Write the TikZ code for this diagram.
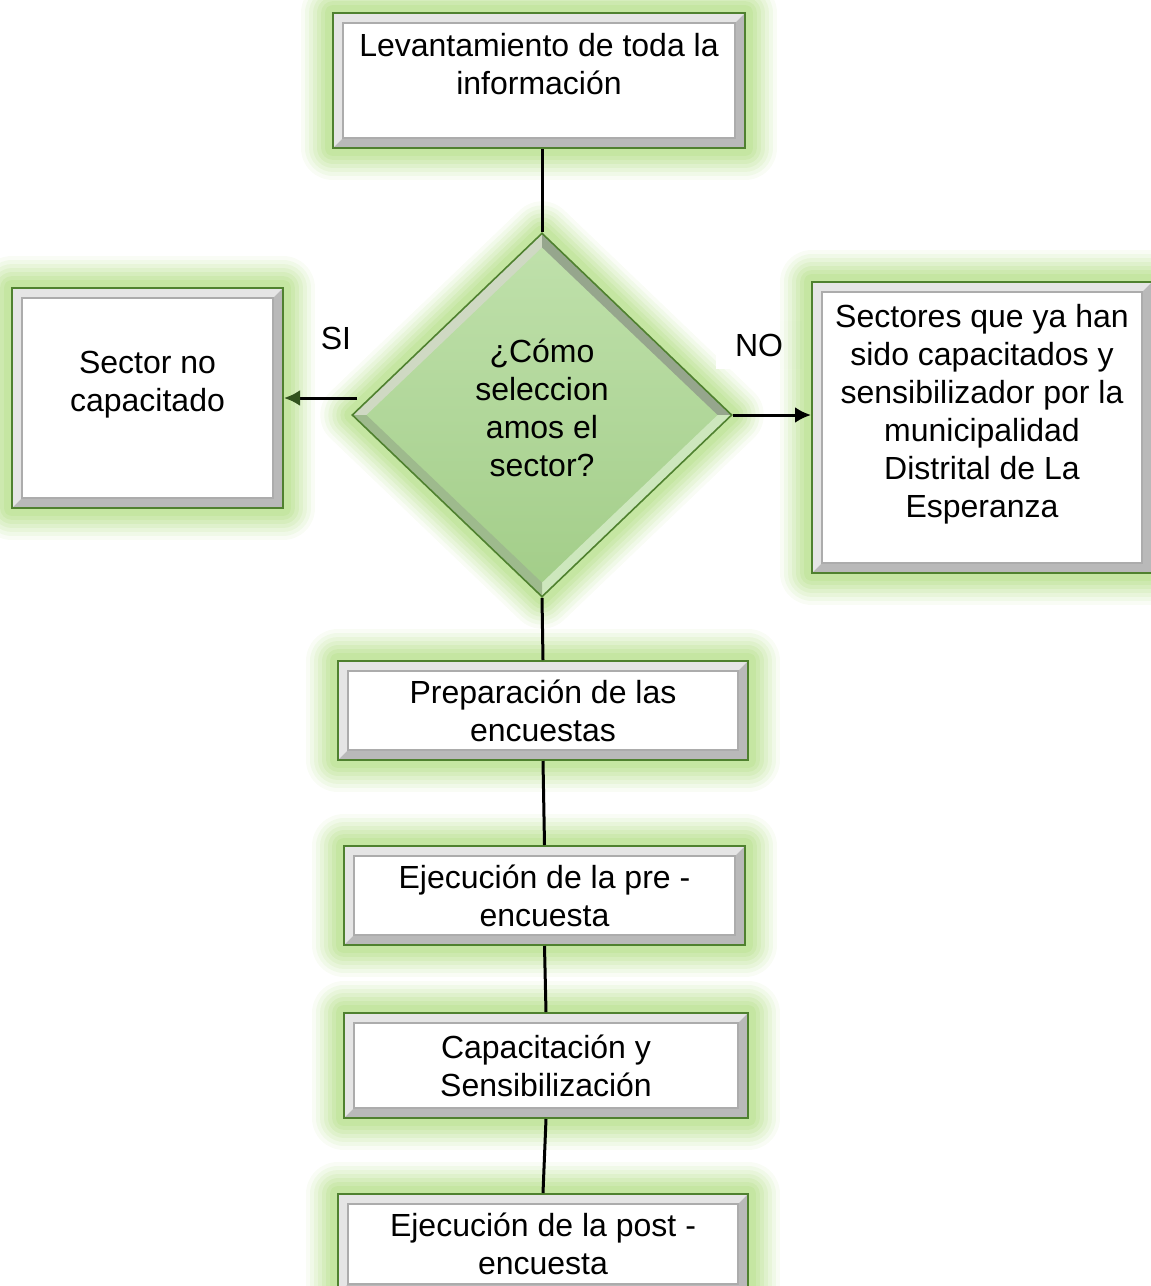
\documentclass[tikz,border=0pt]{standalone}
\usepackage{fontspec}
\setmainfont{Liberation Sans}
\usepackage{tikz}
\usetikzlibrary{shapes, arrows.meta, positioning}
\usepackage{xcolor}
\definecolor{glowgreen}{RGB}{146,208,80}
\definecolor{edgegreen}{RGB}{79,129,47}
\definecolor{sigreen}{RGB}{50,82,30}
\definecolor{difftop}{RGB}{192,225,172}
\definecolor{diffbot}{RGB}{162,205,136}
\newcommand{\ppb}{path picture bounding box}
\newcommand{\bev}{5pt}
\newcommand{\dbev}{7pt}

\begin{document}
\begin{tikzpicture}[
            x=0.5pt, y=-0.5pt,
            every node/.style={font=\fontsize{16}{19}\selectfont, align=center},
            glow/.style={
                preaction={draw=glowgreen, line width=32pt, draw opacity=.06, line join=round},
                preaction={draw=glowgreen, line width=28pt, draw opacity=.08, line join=round},
                preaction={draw=glowgreen, line width=24pt, draw opacity=.09, line join=round},
                preaction={draw=glowgreen, line width=20pt, draw opacity=.1, line join=round},
                preaction={draw=glowgreen, line width=16pt, draw opacity=.12, line join=round},
                preaction={draw=glowgreen, line width=12pt, draw opacity=.13, line join=round},
                preaction={draw=glowgreen, line width=8pt, draw opacity=.14, line join=round}},
            stepbox/.style={glow, draw=edgegreen, line width=1pt, fill=white, inner sep=0pt,
                path picture={
                    \fill[gray!20] (\ppb.south west) -- (\ppb.north west) -- (\ppb.north east)
                        -- ++(-\bev,-\bev) -| ([shift={(\bev,\bev)}]\ppb.south west) -- cycle;
                    \fill[gray!55] (\ppb.south west) -- (\ppb.south east) -- (\ppb.north east)
                        -- ++(-\bev,-\bev) |- ([shift={(\bev,\bev)}]\ppb.south west) -- cycle;
                    \draw[gray!65, line width=.6pt] ([shift={(\bev,\bev)}]\ppb.south west)
                        rectangle ([shift={(-\bev,-\bev)}]\ppb.north east);
                }},
            decision/.style={diamond, glow, draw=edgegreen, line width=.8pt,
                top color=difftop, bottom color=diffbot, text depth=7pt,
                minimum width=190pt, minimum height=182pt, inner sep=0pt,
                path picture={
                    \fill[green!25!lime!10!white!85!black] (\ppb.west) -- (\ppb.north)
                        -- ([yshift=-\dbev]\ppb.north) -- ([xshift=\dbev]\ppb.west) -- cycle;
                    \fill[edgegreen!45!gray!70] (\ppb.north) -- (\ppb.east)
                        -- ([xshift=-\dbev]\ppb.east) -- ([yshift=-\dbev]\ppb.north) -- cycle;
                    \fill[difftop!80!white] (\ppb.east) -- (\ppb.south)
                        -- ([yshift=\dbev]\ppb.south) -- ([xshift=-\dbev]\ppb.east) -- cycle;
                    \fill[edgegreen!55!white] (\ppb.south) -- (\ppb.west)
                        -- ([xshift=\dbev]\ppb.west) -- ([yshift=\dbev]\ppb.south) -- cycle;
                }},
            raised/.style={text depth=17pt},
            link/.style={line width=1.5pt},
            yesarrow/.style={link, -{Latex[length=8pt, width=8pt, color=sigreen]}},
            noarrow/.style={link, -{Latex[length=8pt, width=8pt]}}
        ]
        \useasboundingbox (0,0) rectangle (1151,1286);

        \node[stepbox, raised, minimum width=206pt, minimum height=67.5pt] (info) at (539,80.5)
            {Levantamiento de toda la\\información};
        \node[decision] (choice) at (542,415) {¿Cómo\\seleccion\\amos el\\sector?};
        \node[stepbox, raised, minimum width=135.5pt, minimum height=110pt] (nocap) at (147.5,398)
            {Sector no\\capacitado};
        \node (si) at (336,338) {SI};
        \node[fill=white, minimum width=43pt, minimum height=24pt] (no) at (759,345) {NO};
        \node[stepbox, raised, minimum width=170pt, minimum height=145.5pt] (donecap) at (982,427.5)
            {Sectores que ya han\\sido capacitados y\\sensibilizador por la\\municipalidad\\Distrital de La\\Esperanza};

        % pasos de la encuesta
        \foreach \Name/\X/\Y/\W/\H/\Text in {
                prep/543/710.5/205/49.5/{Preparación de las\\encuestas},
                pre/544.5/895.5/200.5/49.5/{Ejecución de la pre -\\encuesta},
                capac/546/1065.5/202/52.5/{Capacitación y\\Sensibilización},
                post/543/1244/205/50/{Ejecución de la post -\\encuesta}}
            \node[stepbox, minimum width=\W pt, minimum height=\H pt] (\Name) at (\X,\Y) {\Text};

        \draw[link] (choice.north |- info.south) -- (choice.north);
        \draw[yesarrow] ([xshift=3pt]nocap.east -| choice.west) -- (nocap.east);
        \draw[noarrow] (choice.east) -- (choice.east -| donecap.west);

        \foreach \From/\To in {choice/prep, prep/pre, pre/capac, capac/post}
            \draw[link] (\From.south) -- (\To.north);
    \end{tikzpicture}
\end{document}
